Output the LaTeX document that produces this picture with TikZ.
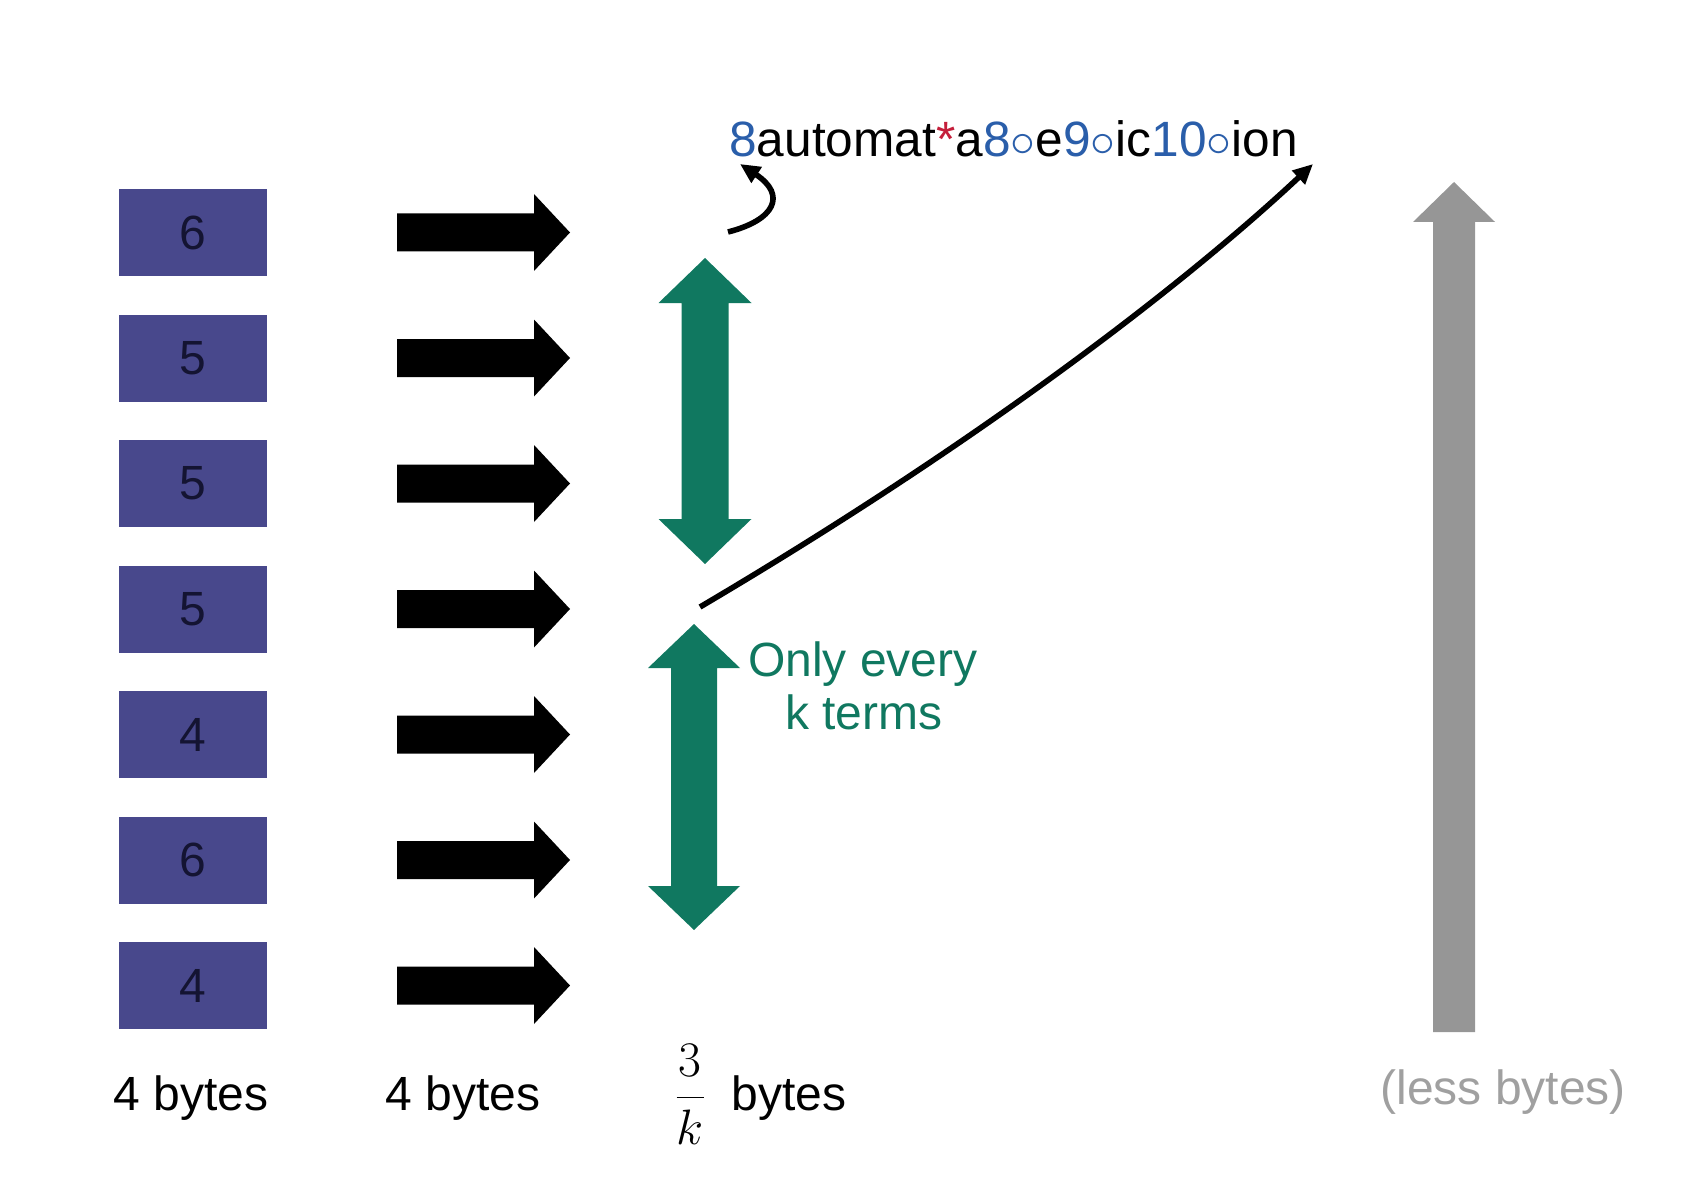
\documentclass[tikz,border=0pt]{standalone}
\usepackage{fontspec}
\setmainfont{Liberation Sans}
\usetikzlibrary{arrows.meta}
\definecolor{boxblue}{RGB}{72,72,140}
\definecolor{numblue}{RGB}{42,94,170}
\definecolor{astred}{RGB}{196,30,58}
\definecolor{tealgreen}{RGB}{16,120,96}
\definecolor{arrowgray}{RGB}{150,150,150}
\definecolor{labelgray}{RGB}{160,160,160}
\definecolor{digitnavy}{RGB}{20,20,50}
\newcommand{\ring}{\textcolor{numblue}{$\circ$}}
\begin{document}
\begin{tikzpicture}[x=0.5pt,y=-0.5pt,
  numbox/.style={fill=boxblue, minimum width=74pt, minimum height=43.5pt, inner sep=0pt, text=digitnavy, font=\fontsize{24}{28}\selectfont},
  lbl/.style={inner sep=0pt, anchor=base west, font=\fontsize{24}{28}\selectfont},
  greentext/.style={inner sep=0pt, anchor=base, text=tealgreen, font=\fontsize{24}{28}\selectfont},
  blockarrow/.style={fill=black},
  pointer/.style={line width=2.8pt, -{Triangle[length=10pt,width=9pt]}}]
\useasboundingbox (0,0) rectangle (1707,1182);
% number boxes and block arrows
\foreach \d [count=\i from 0] in {6,5,5,5,4,6,4} {
  \pgfmathsetmacro{\yc}{232.5+125.5*\i}
  \node[numbox] (box\i) at (193,\yc) {\d};
  \fill[blockarrow] (397,\yc-19) -- (534,\yc-19) -- (534,\yc-38.5) -- (570,\yc)
     -- (534,\yc+38.5) -- (534,\yc+19) -- (397,\yc+19) -- cycle;
}
% green double arrows
\fill[tealgreen] (705,258) -- (751.5,303) -- (728.5,303) -- (728.5,519) -- (751.5,519)
  -- (705,564) -- (658.5,519) -- (681.5,519) -- (681.5,303) -- (658.5,303) -- cycle;
\fill[tealgreen] (694,624) -- (740,668) -- (717,668) -- (717,886) -- (740,886)
  -- (694,930) -- (648,886) -- (671,886) -- (671,668) -- (648,668) -- cycle;
% gray arrow
\fill[arrowgray] (1454,182) -- (1495,222) -- (1475,222) -- (1475,1032) -- (1433,1032)
  -- (1433,222) -- (1413,222) -- cycle;
% top string
\node[lbl, font=\fontsize{24.8}{28}\selectfont] (str) at (729,157) {\textcolor{numblue}{8}automat\textcolor{astred}{*}a\textcolor{numblue}{8}\ring e\textcolor{numblue}{9}\ring ic\textcolor{numblue}{10}\ring ion};
% pointers
\coordinate (cs) at (728,232);
\coordinate (ce) at (740,164);
\draw[pointer] (cs) .. controls (775,220) and (787,195) .. (ce);
\coordinate (ls) at (700,607);
\coordinate (le) at (1313,164);
\draw[pointer] (ls) .. controls (1000,430) and (1200,270) .. (le);
% green label
\node[greentext] (only) at (863,676) {Only every};
\node[greentext] (kterms) at (864,729) {k terms};
% bottom labels
\node[lbl] (l1) at (113,1110) {4 bytes};
\node[lbl] (l2) at (385,1110) {4 bytes};
\node[inner sep=0pt, anchor=base, font=\fontsize{27}{30}\selectfont] (frac) at (690,1110) {$\displaystyle\frac{3}{k}$};
\node[lbl] (l3) at (731,1110) {bytes};
\node[lbl, text=labelgray] (l4) at (1380,1104) {(less bytes)};
\end{tikzpicture}
\end{document}
